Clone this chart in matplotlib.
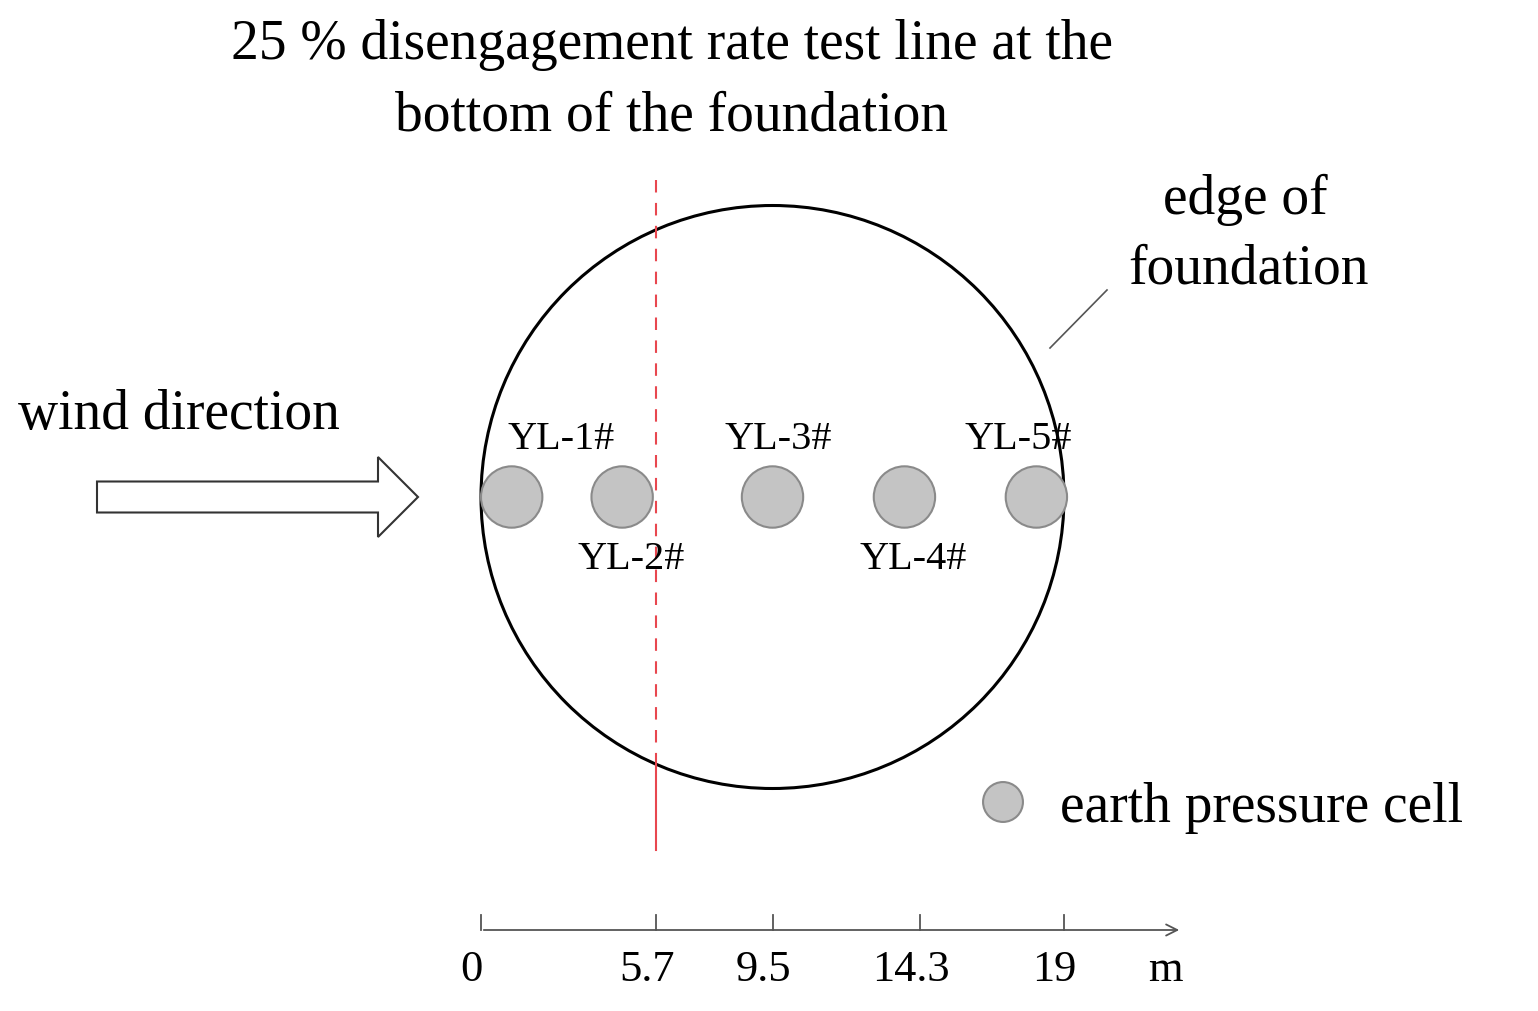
import matplotlib.pyplot as plt
from matplotlib.patches import Circle, FancyArrow

plt.rcParams['font.family'] = ['Liberation Serif', 'DejaVu Serif']

# data (metres)
cell_names = ['YL-1#', 'YL-2#', 'YL-3#', 'YL-4#', 'YL-5#']
cell_x = [1.0, 4.6, 9.5, 13.8, 18.1]
scale_ticks = [0, 5.7, 9.5, 14.3, 19]
scale_labels = ['0', '5.7', '9.5', '14.3', '19']
test_line_x = 5.7
foundation_diameter = 19.0

S = 583 / 19.0  # pixels per metre in the picture


def m(px, py):
    # picture pixel -> metre coordinates (origin at 0 m on the centre line)
    return (px - 481) / S, (497 - py) / S


fig = plt.figure(figsize=(15.38, 10.11), dpi=100)
ax = fig.add_axes([0, 0, 1, 1])
x0, y0 = m(0, 1011)
x1, y1 = m(1538, 0)
ax.set_xlim(x0, x1)
ax.set_ylim(y0, y1)
ax.axis('off')

BIG = 40

# foundation edge
R = foundation_diameter / 2
ax.add_patch(Circle((R, 0), R, fill=False, ec='black', lw=2.2))

# earth pressure cells
for i, (name, cx) in enumerate(zip(cell_names, cell_x)):
    ax.add_patch(Circle((cx, 0), 1.0, fc='#c4c4c4', ec='#8a8a8a', lw=1.5, zorder=3))
    ly = m(0, 440)[1] if i % 2 == 0 else m(0, 560)[1]
    lx = cx + [1.6, 0.3, 0.2, 0.3, -0.6][i]
    ax.text(lx, ly, name, ha='center', va='center', fontsize=29, zorder=4)

# 25 % test line
ax.plot([test_line_x] * 2, [m(0, 180)[1], m(0, 765)[1]], color='#e8474f', lw=1.5,
        dashes=(6, 5), zorder=2)
ax.plot([test_line_x] * 2, [m(0, 765)[1], m(0, 850)[1]], color='#e8474f', lw=1.5, zorder=2)

# title
ax.text(*m(672, 45), '25 % disengagement rate test line at the', ha='center', va='center', fontsize=BIG)
ax.text(*m(672, 117), 'bottom of the foundation', ha='center', va='center', fontsize=BIG)

# edge of foundation label
ax.text(*m(1245, 200), 'edge of', ha='center', va='center', fontsize=BIG)
ax.text(*m(1248, 270), 'foundation', ha='center', va='center', fontsize=BIG)
p1, p2 = m(1107, 290), m(1050, 348)
ax.plot([p1[0], p2[0]], [p1[1], p2[1]], color='#555555', lw=1.2)

# wind direction
ax.text(*m(18, 415), 'wind direction', ha='left', va='center', fontsize=BIG)
ax0, ay0 = m(97, 497)
ax_end, _ = m(418, 497)
ax.add_patch(FancyArrow(ax0, ay0, ax_end - ax0, 0, width=31 / S, head_width=80 / S,
                        head_length=40 / S, length_includes_head=True,
                        fc='white', ec='#333333', lw=1.5))

# legend
lx, ly = m(1003, 802)
ax.add_patch(Circle((lx, ly), 0.65, fc='#c4c4c4', ec='#8a8a8a', lw=1.5))
ax.text(*m(1060, 808), 'earth pressure cell', ha='left', va='center', fontsize=BIG)

# scale bar
sy = m(0, 930)[1]
sx_end = m(1182, 0)[0]
ax.annotate('', xy=(sx_end, sy), xytext=(0, sy),
            arrowprops=dict(arrowstyle='->', color='#555555', lw=1.3, mutation_scale=20))
for t, lab in zip(scale_ticks, scale_labels):
    ax.plot([t, t], [sy, sy + 15 / S], color='#555555', lw=1.3)
    ax.text(t - 0.3, m(0, 970)[1], lab, ha='center', va='center', fontsize=32)
ax.text(m(1165, 0)[0], m(0, 970)[1], 'm', ha='center', va='center', fontsize=32)

fig.savefig('out.png', dpi=100)
